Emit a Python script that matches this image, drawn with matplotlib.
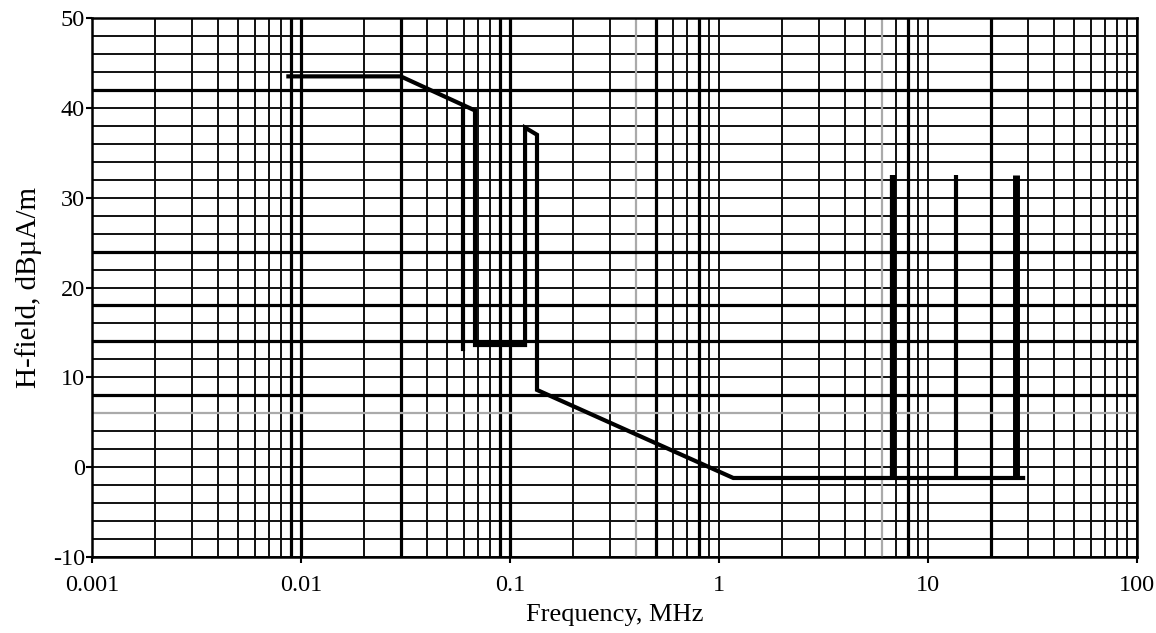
import numpy as np
import matplotlib
matplotlib.use('Agg')
import matplotlib.pyplot as plt
from matplotlib.ticker import LogLocator, MultipleLocator, FixedLocator, FixedFormatter

plt.rcParams['font.family'] = ['Liberation Serif', 'DejaVu Serif']
plt.rcParams['axes.unicode_minus'] = False

# limit curve (MHz, dBuA/m)
freq = [0.0087, 0.03, 0.068, 0.068, 0.118, 0.118, 0.1346, 0.1346, 1.17, 28.5]
level = [43.5, 43.5, 39.7, 13.6, 13.6, 37.8, 37.0, 8.6, -1.2, -1.2]

# second vertical edge of the first notch
notch_f = [0.0596, 0.0596]
notch_l = [40.3, 13.2]

# ISM spikes
spike_f = [6.78, 13.56, 26.5]
spike_top = [32.5, 32.5, 32.5]
spike_base = -1.2
spike_w = [4.5, 3.0, 5.0]

xticks = [0.001, 0.01, 0.1, 1, 10, 100]
xlabels = ['0.001', '0.01', '0.1', '1', '10', '100']

# gridlines that came out heavier / lighter in the original print
heavy_x = [0.009, 0.01, 0.03, 0.09, 0.1, 0.5, 0.8, 8, 20]
light_x = [0.4, 6]
heavy_y = [42, 24, 18, 14, 8]
light_y = [6]

fig = plt.figure(figsize=(11.56, 6.33), dpi=100)
ax = fig.add_axes([0.0796, 0.12, 0.904, 0.8516])

ax.set_xscale('log')
ax.set_xlim(0.001, 100)
ax.set_ylim(-10, 50)

ax.xaxis.set_major_locator(FixedLocator(xticks))
ax.xaxis.set_major_formatter(FixedFormatter(xlabels))
ax.xaxis.set_minor_locator(LogLocator(base=10, subs=np.arange(2, 10)))
ax.xaxis.set_minor_formatter(FixedFormatter([]))
ax.yaxis.set_major_locator(MultipleLocator(10))
ax.yaxis.set_minor_locator(MultipleLocator(2))

ax.grid(True, which='both', color='#111111', linewidth=1.4)
ax.set_axisbelow(True)
for v in heavy_x:
    ax.axvline(v, color='black', linewidth=2.3, zorder=1)
for v in light_x:
    ax.axvline(v, color='#aaaaaa', linewidth=1.6, zorder=1)
for v in heavy_y:
    ax.axhline(v, color='black', linewidth=2.3, zorder=1)
for v in light_y:
    ax.axhline(v, color='#aaaaaa', linewidth=1.6, zorder=1)

ax.plot(freq, level, color='black', linewidth=3.0, solid_joinstyle='miter', zorder=3)
ax.plot(notch_f, notch_l, color='black', linewidth=3.0, zorder=3)
for f, top, w in zip(spike_f, spike_top, spike_w):
    ax.plot([f, f], [spike_base, top], color='black', linewidth=w,
            solid_capstyle='butt', zorder=3)

for s in ax.spines.values():
    s.set_linewidth(1.8)
    s.set_color('black')

ax.tick_params(axis='both', which='major', direction='out', length=4, width=1.5,
               labelsize=17.5, colors='black')
ax.tick_params(axis='both', which='minor', length=0)
ax.tick_params(axis='x', pad=9)
ax.tick_params(axis='y', pad=1)

ax.set_xlabel('Frequency, MHz', fontsize=19, labelpad=6)
ax.set_ylabel('H-field, dBµA/m', fontsize=21, labelpad=8)

fig.savefig('out.png', dpi=100)
